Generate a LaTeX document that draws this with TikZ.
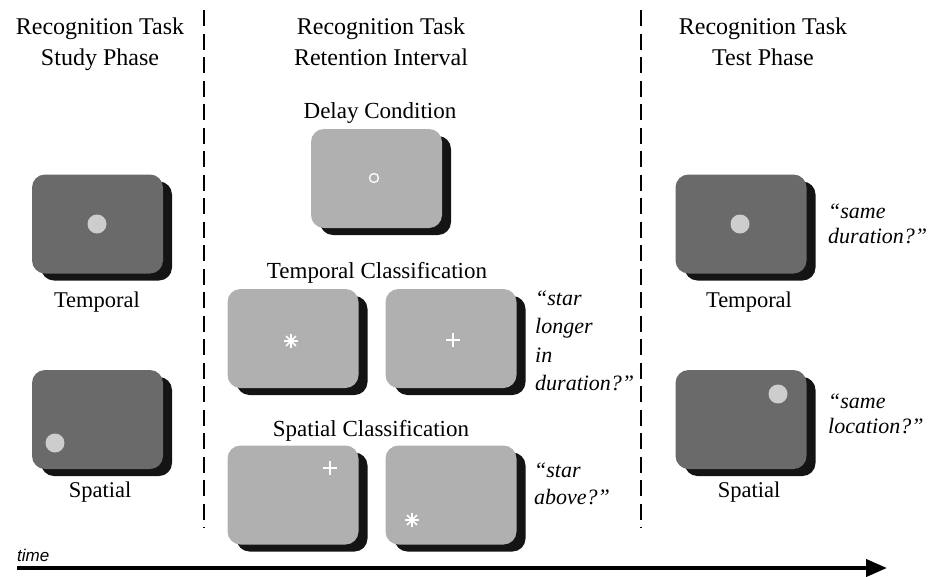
\documentclass[tikz,border=0pt]{standalone}
\usepackage{fontspec}
\setmainfont{Liberation Serif}
\newfontfamily\timefont{Liberation Sans}
\usetikzlibrary{shadows,arrows.meta}
\definecolor{darkscr}{HTML}{6A6A6A}
\definecolor{lightscr}{HTML}{B0B0B0}
\definecolor{dotc}{HTML}{CDCDCD}
\definecolor{shadowc}{HTML}{141414}
\begin{document}
\begin{tikzpicture}[x=1pt,y=-1pt,
  screen/.style={minimum width=131pt, minimum height=99pt, inner sep=0pt,
    rounded corners=13pt,
    general shadow={fill=shadowc, shadow xshift=9pt, shadow yshift=-7pt}},
  darkscreen/.style={screen, fill=darkscr},
  lightscreen/.style={screen, fill=lightscr},
  titletext/.style={font=\fontsize{24}{28}\selectfont, anchor=base, inner sep=0pt},
  sectext/.style={font=\fontsize{23}{28}\selectfont, anchor=base, inner sep=0pt},
  labtext/.style={font=\fontsize{22.5}{26}\selectfont, anchor=base, inner sep=0pt},
  quotetext/.style={font=\fontsize{22}{26}\selectfont\itshape, anchor=base west, inner sep=0pt},
  stimdot/.style={circle, fill=dotc, minimum size=19pt, inner sep=0pt},
  divider/.style={line width=2pt, dash pattern=on 16pt off 7.5pt},
  stimline/.style={white, line width=1.8pt},
  starline/.style={white, line width=1.7pt},
]
\useasboundingbox (0,0) rectangle (929,576);

% titles
\node[titletext] (t1a) at (100,34) {Recognition Task};
\node[titletext] (t1b) at (100,65) {Study Phase};
\node[titletext] (t2a) at (381,34) {Recognition Task};
\node[titletext] (t2b) at (381,65) {Retention Interval};
\node[titletext] (t3a) at (763,34) {Recognition Task};
\node[titletext] (t3b) at (763,65) {Test Phase};

% dividers
\coordinate (d1top) at (204,10);
\coordinate (d1bot) at (204,528);
\coordinate (d2top) at (641,10);
\coordinate (d2bot) at (641,528);
\draw[divider] (d1top) -- (d1bot);
\draw[divider] (d2top) -- (d2bot);

% study phase
\node[darkscreen] (st) at (97.5,224) {};
\node[stimdot] (stdot) at (97,224) {};
\node[labtext] (stl) at (97,307) {Temporal};
\node[darkscreen] (ss) at (97.5,419.5) {};
\node[stimdot] (ssdot) at (55,443) {};
\node[labtext] (ssl) at (100,497) {Spatial};

% retention interval
\node[sectext] (dl) at (380,118) {Delay Condition};
\node[lightscreen] (dc) at (376.5,178.5) {};
\node[circle, draw=white, line width=1.3pt, minimum size=9pt, inner sep=0pt] (dcc) at (374,178) {};

\node[sectext] (tcl) at (377,278) {Temporal Classification};
\node[lightscreen] (tc1) at (293,338.5) {};
\node[lightscreen] (tc2) at (451,338.5) {};
\begin{scope}[shift={(291,341)}]
  \foreach \a in {0,45,90,135} \draw[starline] (\a:7) -- (\a+180:7);
\end{scope}
\draw[stimline] (446,340) -- (460,340) (453,333) -- (453,347);
\node[quotetext] (q1) at (535,305) {“star};
\node[quotetext] (q2) at (535,333) {longer};
\node[quotetext] (q3) at (535,362) {in};
\node[quotetext] (q4) at (535,390) {duration?”};

\node[sectext] (scl) at (371,436) {Spatial Classification};
\node[lightscreen] (sc1) at (293,495) {};
\node[lightscreen] (sc2) at (451,495) {};
\draw[stimline] (323,468) -- (337,468) (330,461) -- (330,475);
\begin{scope}[shift={(412,520)}]
  \foreach \a in {0,45,90,135} \draw[starline] (\a:7) -- (\a+180:7);
\end{scope}
\node[quotetext] (q5) at (534,477) {“star};
\node[quotetext] (q6) at (534,504) {above?”};

% test phase
\node[darkscreen] (tt) at (741,224) {};
\node[stimdot] (ttdot) at (740,224) {};
\node[labtext] (ttl) at (749,307) {Temporal};
\node[quotetext] (q7) at (828,218) {“same};
\node[quotetext] (q8) at (828,243) {duration?”};
\node[darkscreen] (ts) at (741,419.5) {};
\node[stimdot] (tsdot) at (778,394) {};
\node[labtext] (tsl) at (749,497) {Spatial};
\node[quotetext] (q9) at (828,408) {“same};
\node[quotetext] (q10) at (828,433) {location?”};

% time arrow
\node[font=\timefont\itshape\fontsize{17}{19}\selectfont, anchor=base west, inner sep=0pt] (tm) at (17,561) {time};
\coordinate (a1) at (17,568);
\coordinate (a2) at (887,568);
\draw[line width=4pt, -{Triangle[length=21pt, width=17pt]}] (a1) -- (a2);
\end{tikzpicture}
\end{document}
